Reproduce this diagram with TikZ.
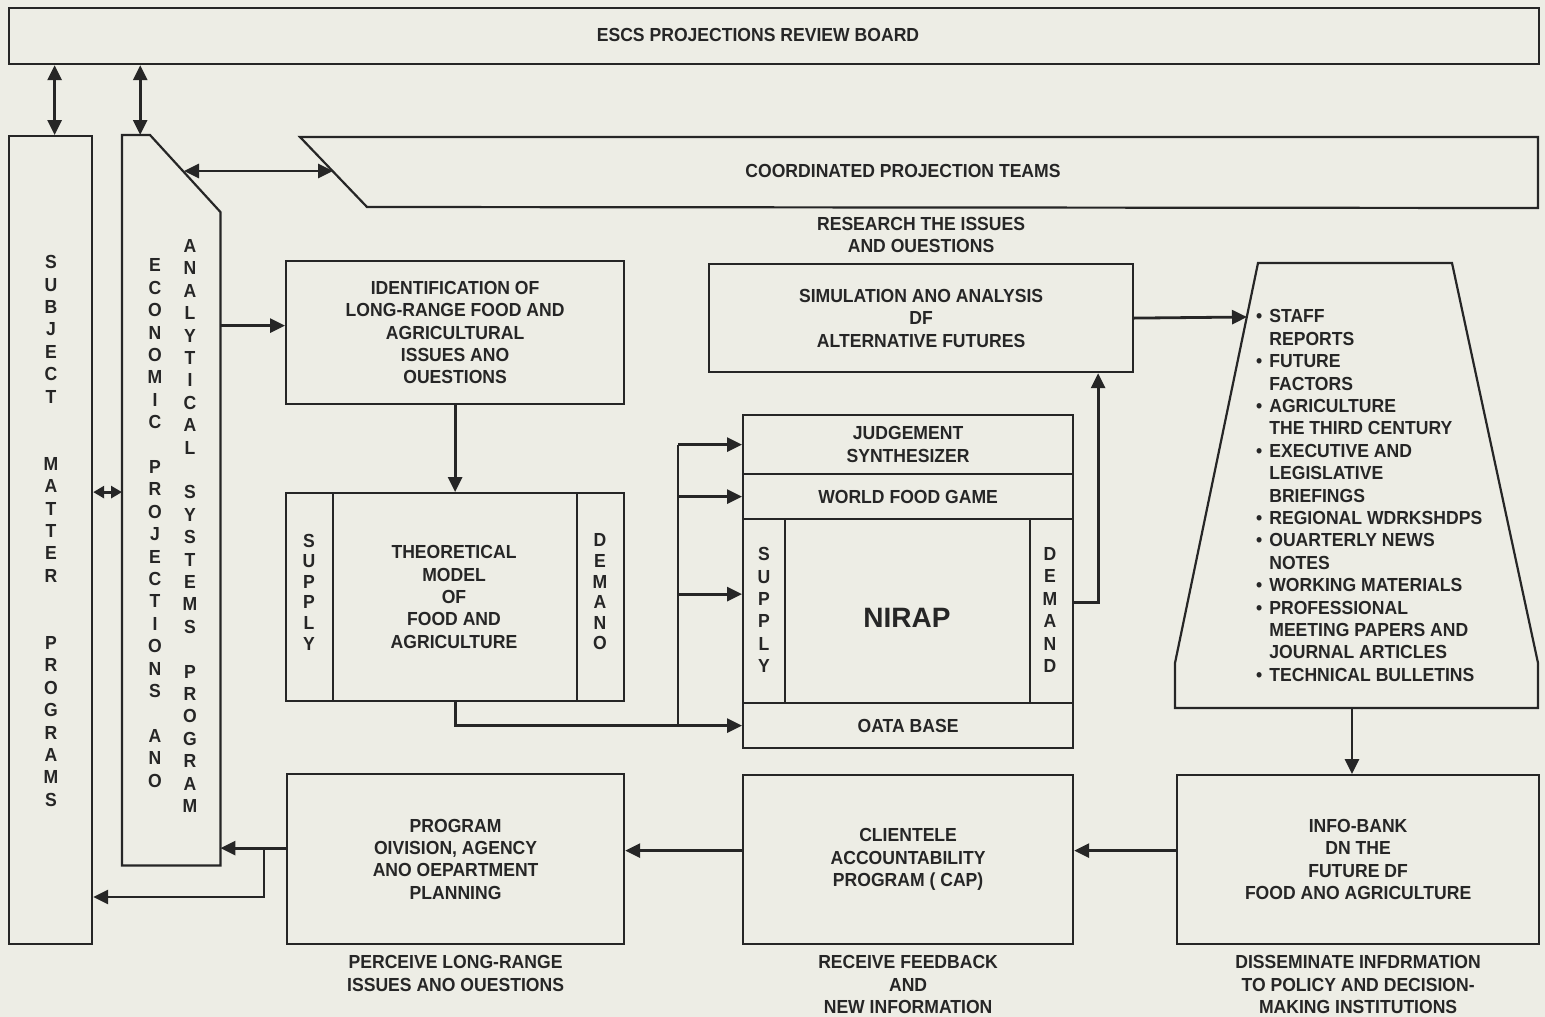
\documentclass[tikz,border=0pt]{standalone}
\usepackage{fontspec}
\setmainfont{Liberation Sans}[FakeStretch=0.93]
\newfontfamily\nirapfont{Liberation Sans}
\usepackage{tikz}
\usetikzlibrary{positioning}
\usetikzlibrary{arrows.meta}
\definecolor{paper}{RGB}{237,237,229}
\definecolor{ink}{RGB}{38,38,38}
\newcommand{\lblfont}{\fontsize{18.9}{22.4}\selectfont\bfseries}
\newcommand{\stripfont}{\fontsize{18.9}{20.6}\selectfont\bfseries}

\begin{document}
\begin{tikzpicture}[
	x=1pt, y=-1pt,
	line join=miter,
	font=\lblfont, text=ink
]
\tikzset{
    box/.style = {rectangle, draw=ink, line width=2.2pt, anchor=north west, align=center, inner sep=0pt},
    frame/.style = {rectangle, anchor=north west, inner sep=0pt},
    note/.style = {align=center, inner sep=0pt},
    strip/.style = {align=center, inner sep=0pt, font=\stripfont},
    outline/.style = {draw=ink, line width=2.2pt},
    arr/.style = {draw=ink, line width=2.8pt, -{Triangle[length=15pt,width=14pt]}},
    darr/.style = {draw=ink, line width=2.8pt, {Triangle[length=15pt,width=14pt]}-{Triangle[length=15pt,width=14pt]}},
    sdarr/.style = {draw=ink, line width=2.8pt, {Triangle[length=11pt,width=12pt]}-{Triangle[length=11pt,width=12pt]}}
}
\fill[paper] (0,0) rectangle (1545,1017);
\useasboundingbox (0,0) rectangle (1545,1017);

\node[box,minimum width=1530,minimum height=56] (board) at (8,7) {};
\node[note] (boardtxt) at (758,35) {ESCS PROJECTIONS REVIEW BOARD};

\node[box,minimum width=83,minimum height=808] (subj) at (8,135) {};
\node[note] (subjtxt) at (51,531) {S\\U\\B\\J\\E\\C\\T\\[44.8pt]M\\A\\T\\T\\E\\R\\[44.8pt]P\\R\\O\\G\\R\\A\\M\\S};

\node[frame,minimum width=98,minimum height=730] (econ) at (122,135) {};
\draw[outline] (econ.south west) |- ([xshift=28pt]econ.north west) -- ([yshift=-77pt]econ.north east) -- (econ.south east) -- cycle;
\node[note] (econtxt) at (155,523) {E\\C\\O\\N\\O\\M\\I\\C\\[22.4pt]P\\R\\O\\J\\E\\C\\T\\I\\O\\N\\S\\[22.4pt]A\\N\\O};
\node[note] (analtxt) at (190,526) {A\\N\\A\\L\\Y\\T\\I\\C\\A\\L\\[22.4pt]S\\Y\\S\\T\\E\\M\\S\\[22.4pt]P\\R\\O\\G\\R\\A\\M};

\draw[outline] (300,137) -- (1538,137) -- (1538,208) -- (367,207) -- cycle;
\node[note] (teams) at (903,171) {COORDINATED PROJECTION TEAMS};

\node[box,minimum width=338,minimum height=143] (ident) at (285,260) {IDENTIFICATION OF\\LONG-RANGE FOOD AND\\AGRICULTURAL\\ISSUES ANO\\OUESTIONS};

\node[box,minimum width=338,minimum height=208] (theory) at (285,492) {};
\draw[outline] ([xshift=48pt]theory.north west) -- ([xshift=48pt]theory.south west);
\draw[outline] ([xshift=-48pt]theory.north east) -- ([xshift=-48pt]theory.south east);
\node[strip] (tsupply) at (309,592) {S\\U\\P\\P\\L\\Y};
\node[note] (theorytxt) at (454,597) {THEORETICAL\\MODEL\\OF\\FOOD AND\\AGRICULTURE};
\node[strip] (tdemand) at (600,592) {D\\E\\M\\A\\N\\O};

\node[box,minimum width=424,minimum height=108] (sim) at (708,263) {SIMULATION ANO ANALYSIS\\DF\\ALTERNATIVE FUTURES};
\node[note, above=10pt of sim] (research) {RESEARCH THE ISSUES\\AND OUESTIONS};

\node[box,minimum width=330,minimum height=59] (judge) at (742,414) {JUDGEMENT\\SYNTHESIZER};
\node[box,minimum width=330,minimum height=45] (game) at (742,473) {WORLD FOOD GAME};
\node[box,minimum width=330,minimum height=184] (core) at (742,518) {};
\node[box,minimum width=330,minimum height=45] (dbase) at (742,702) {OATA BASE};
\draw[outline] ([xshift=43pt]core.north west) -- ([xshift=43pt]core.south west);
\draw[outline] ([xshift=-44pt]core.north east) -- ([xshift=-44pt]core.south east);
\node[note] (nsupply) at (764,610) {S\\U\\P\\P\\L\\Y};
\node[note,font=\nirapfont\fontsize{28}{28}\selectfont\bfseries] (nirap) at (907,618) {NIRAP};
\node[note] (ndemand) at (1050,610) {D\\E\\M\\A\\N\\D};

\draw[outline] (1258,263) -- (1452,263) -- (1538,663) -- (1538,708) -- (1175,708) -- (1175,663) -- cycle;
\node[note,anchor=north west] (pubs) at (1256,307) {\begin{tabular}{@{}c@{\hspace{7pt}}l@{}}
\textbullet & STAFF\\
 & REPORTS\\
\textbullet & FUTURE\\
 & FACTORS\\
\textbullet & AGRICULTURE\\
 & THE THIRD CENTURY\\
\textbullet & EXECUTIVE AND\\
 & LEGISLATIVE\\
 & BRIEFINGS\\
\textbullet & REGIONAL WDRKSHDPS\\
\textbullet & OUARTERLY NEWS\\
 & NOTES\\
\textbullet & WORKING MATERIALS\\
\textbullet & PROFESSIONAL\\
 & MEETING PAPERS AND\\
 & JOURNAL ARTICLES\\
\textbullet & TECHNICAL BULLETINS
\end{tabular}};

\node[box,minimum width=362,minimum height=169] (info) at (1176,774) {INFO-BANK\\DN THE\\FUTURE DF\\FOOD ANO AGRICULTURE};
\node[box,minimum width=330,minimum height=169] (client) at (742,774) {CLIENTELE\\ACCOUNTABILITY\\PROGRAM ( CAP)};
\node[box,minimum width=337,minimum height=170] (prog) at (286,773) {PROGRAM\\OIVISION, AGENCY\\ANO OEPARTMENT\\PLANNING};

\node[note, below=10pt of prog] (perceive) {PERCEIVE LONG-RANGE\\ISSUES ANO OUESTIONS};
\node[note, below=10pt of client] (receive) {RECEIVE FEEDBACK\\AND\\NEW INFORMATION};
\node[note, below=10pt of info] (dissem) {DISSEMINATE INFDRMATION\\TO POLICY AND DECISION-\\MAKING INSTITUTIONS};

\draw[darr] ([xshift=4pt]subj.north) -- ([xshift=4pt]subj.north |- board.south);
\draw[darr] ([xshift=-31pt]econ.north) -- ([xshift=-31pt]econ.north |- board.south);
\coordinate (chamf) at (184,171);
\coordinate (teamsin) at (333,171);
\draw[darr] (chamf) -- (teamsin);
\coordinate (sx) at ([yshift=48pt]subj.east);
\draw[sdarr] (sx) -- (sx -| econ.west);

\coordinate (ein) at ([yshift=7pt]ident.west);
\draw[arr] (ein -| econ.east) -- (ein);
\draw[arr] (ident.south) -- (theory.north);
\draw[arr] (theory.south) |- (dbase.west);
\coordinate (bus) at ([xshift=-64pt]dbase.west);
\draw[draw=ink, line width=2.8pt] (bus) -- (bus |- judge.west);
\draw[arr] (bus |- judge.west) -- (judge.west);
\draw[arr] (bus |- game.west) -- (game.west);
\coordinate (sin) at ([yshift=17pt]core.west);
\draw[arr] (bus |- sin) -- (sin);
\coordinate (dout) at ([yshift=9pt]core.east);
\coordinate (simin) at ([xshift=177pt]sim.south);
\draw[arr] (dout) -| (simin);
\coordinate (pin) at (1247,317);
\draw[arr] (sim.east) -- (pin);
\coordinate (pout) at (1352,708);
\draw[arr] (pout) -- (pout |- info.north);
\coordinate (iout) at ([yshift=9pt]info.west);
\draw[arr] (iout) -- (iout -| client.east);
\coordinate (cout) at ([yshift=9pt]client.west);
\draw[arr] (cout) -- (cout -| prog.east);
\coordinate (pj) at ([yshift=11pt]prog.west);
\draw[arr] (pj) -- (pj -| econ.east);
\coordinate (br) at (264,897);
\draw[arr] (pj -| br) |- (br -| subj.east);
\end{tikzpicture}
\end{document}
